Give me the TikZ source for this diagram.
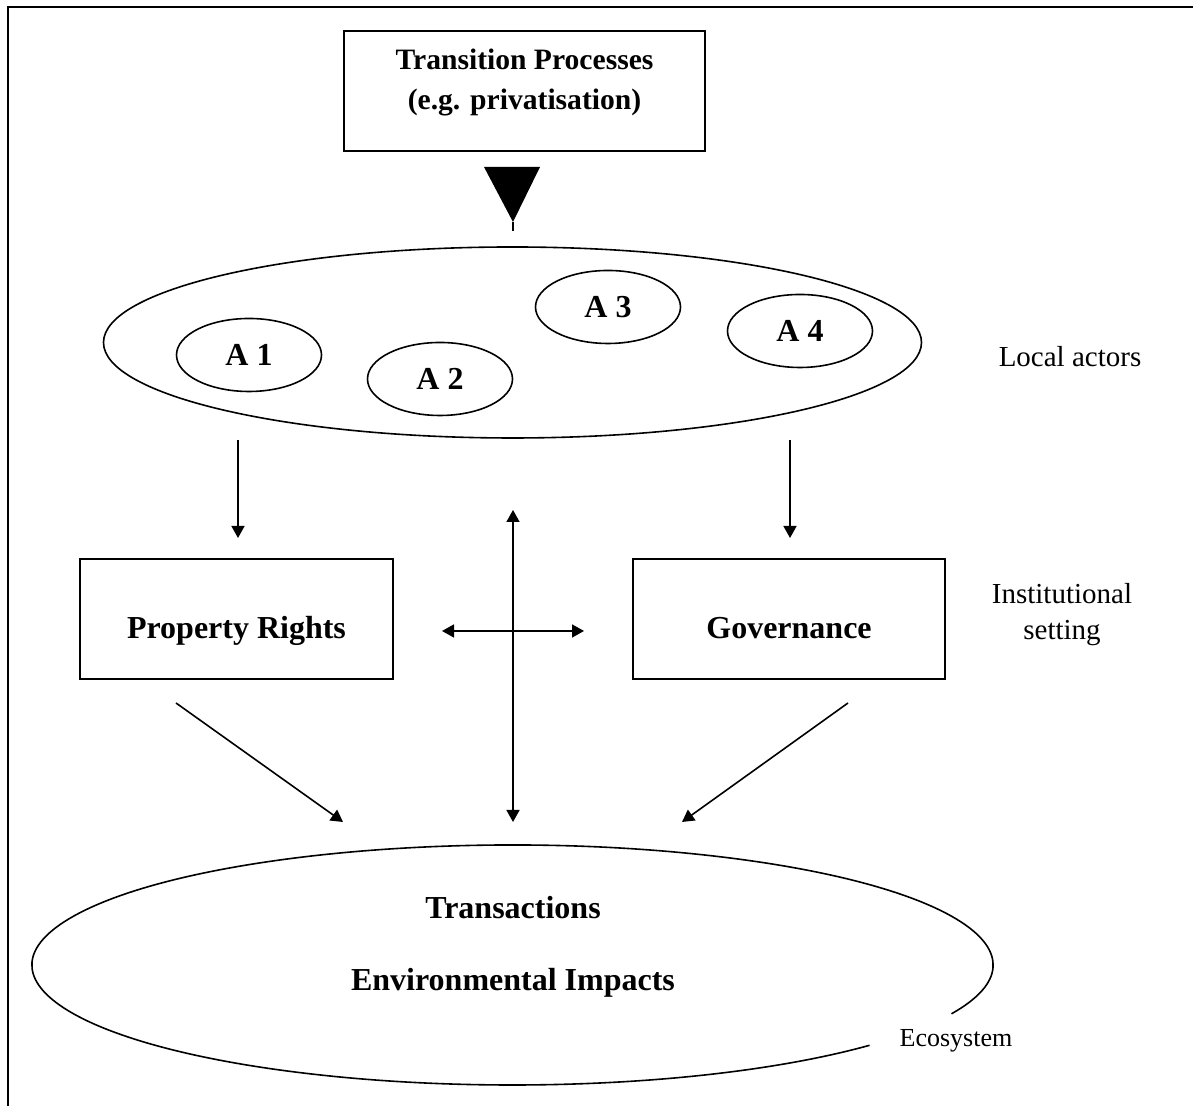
\documentclass[tikz,border=0pt]{standalone}
\usepackage{fontspec}
\setmainfont{Liberation Serif}
\usetikzlibrary{shapes.geometric,arrows.meta,positioning}

\begin{document}
\begin{tikzpicture}[x=0.5pt,y=0.5pt,line width=0.8pt,
  bigtxt/.style={font=\fontsize{16}{19}\selectfont\bfseries},
  sidetxt/.style={font=\fontsize{14.5}{18}\selectfont,align=center},
  rbox/.style={draw,rectangle,minimum height=60pt,inner sep=0pt,bigtxt,
    text height=23.5pt,text depth=3.5pt},
  actor/.style={draw,ellipse,minimum width=72.5pt,minimum height=36.5pt,inner sep=0pt,bigtxt},
  arr/.style={-{Triangle[length=6pt,width=6.5pt]}},
  dblarr/.style={{Triangle[length=6pt,width=6.5pt]}-{Triangle[length=6pt,width=6.5pt]}}]
\useasboundingbox (0,0) rectangle (1193,1106);
% frame
\draw[line width=1pt] (8,0) -- (8,1099) -- (1193,1099);

% transition processes
\node[draw,rectangle,minimum width=180.5pt,minimum height=60pt,inner sep=0pt] (trans) at (524.5,1015) {};
\node[font=\fontsize{14.8}{20}\selectfont\bfseries,align=center] (transtxt) at (524.5,1023)
  {Transition Processes\\(e.g. privatisation)};
\coordinate (tip) at (513,884);
\fill (484,939) -- (540,939) -- (tip) -- cycle;
\draw (tip) -- ++(0,-9);

% local actors
\node[draw,ellipse,minimum width=409pt,minimum height=95.5pt,inner sep=0pt] (actors) at (512.5,763.5) {};
\node[actor] (a1) at (249,751) {A 1};
\node[actor] (a2) at (440,727) {A 2};
\node[actor] (a3) at (608,799) {A 3};
\node[actor] (a4) at (800,775) {A 4};
\node[sidetxt] (local) at (1070,749) {Local actors};

% institutional setting
\node[rbox,minimum width=156.5pt] (prop) at (236.5,487) {Property Rights};
\node[rbox,minimum width=156pt] (gov) at (789,487) {Governance};
\node[sidetxt] (inst) at (1062,491) {Institutional\\setting};

\coordinate (pr-src) at (238,666);
\coordinate (pr-in) at (238,568);
\coordinate (gv-src) at (790,666);
\coordinate (gv-in) at (790,568);
\draw[arr] (pr-src) -- (pr-in);
\draw[arr] (gv-src) -- (gv-in);

% cross
\coordinate (h-l) at (442,475);
\coordinate (h-r) at (584,475);
\coordinate (v-t) at (513,596);
\coordinate (v-b) at (513,284);
\draw[dblarr] (h-l) -- (h-r);
\draw[dblarr] (v-t) -- (v-b);

% to the ecosystem
\coordinate (dl-s) at (176,403);
\coordinate (dl-e) at (343,284);
\coordinate (dr-s) at (848,403);
\coordinate (dr-e) at (682,284);
\draw[arr] (dl-s) -- (dl-e);
\draw[arr] (dr-s) -- (dr-e);

% ecosystem
\coordinate (eco) at (512.5,141);
\draw (eco) ++(-24:240.25pt and 60pt) arc[start angle=-24,end angle=318,x radius=240.25pt,y radius=60pt];
\node[bigtxt] (transac) at (513,198) {Transactions};
\node[bigtxt] (envimp) at (513,123) {Environmental Impacts};
\node[font=\fontsize{13}{15}\selectfont] (ecosys) at (956,65) {Ecosystem};
\end{tikzpicture}
\end{document}
